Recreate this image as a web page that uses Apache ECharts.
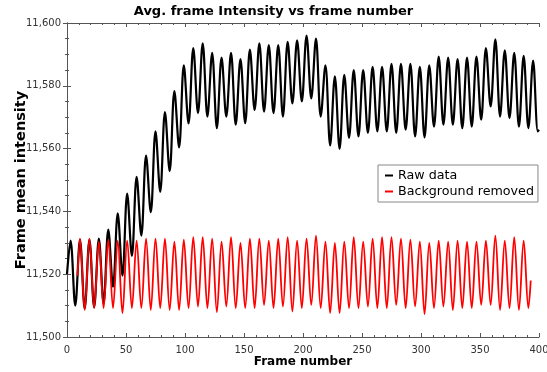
<!DOCTYPE html>
<html>
<head>
<meta charset="utf-8">
<script src="https://cdn.jsdelivr.net/npm/echarts@6/dist/echarts.min.js"></script>
<style>
  html, body { margin: 0; padding: 0; background: #fff; }
  #chart { width: 547px; height: 372px; }
</style>
</head>
<body>
<div id="chart"></div>
<script>
// 原始数据 (peaks / troughs)
const rawFrames = [0, 3, 7, 11, 15, 19, 23, 27, 31, 35, 39, 43, 47, 51, 55, 59, 63, 67, 71, 75, 79, 83, 87, 91, 95, 99,
  103, 107, 111, 115, 119, 123, 127, 131, 135, 139, 143, 147, 151, 155, 159, 163, 167, 171, 175, 179, 183, 187, 191, 195, 199,
  203, 207, 211, 215, 219, 223, 227, 231, 235, 239, 243, 247, 251, 255, 259, 263, 267, 271, 275, 279, 283, 287, 291, 295, 299,
  303, 307, 311, 315, 319, 323, 327, 331, 335, 339, 343, 347, 351, 355, 359, 363, 367, 371, 375, 379, 383, 387, 391, 395, 399, 400]
const rawValues = [11520, 11530.7, 11510, 11531, 11509, 11531, 11509.5, 11531.3, 11510.7, 11534.2, 11516, 11539.4, 11519.5, 11545.7, 11525.8, 11551, 11532.3, 11557.8, 11539.7, 11565.5, 11546.2, 11571.6, 11552.8, 11578.3, 11560.4, 11586.5,
  11568, 11592, 11571.3, 11593.5, 11570.2, 11590.5, 11566.5, 11589, 11570.2, 11590.5, 11567.6, 11588.5, 11568.1, 11591.5, 11572.3, 11593.5, 11571.8, 11593, 11571.3, 11593, 11570.2, 11594, 11574.4, 11594.5, 11575,
  11596, 11576, 11595, 11570.2, 11586.5, 11561, 11583, 11559.9, 11583.5, 11563.4, 11585, 11563.9, 11585, 11565, 11586, 11565.5, 11586, 11565.5, 11587, 11565, 11587, 11566, 11587, 11563.9, 11586,
  11563.6, 11586.5, 11567, 11589.3, 11567.6, 11589, 11567.6, 11588.5, 11566.5, 11589, 11567, 11589.3, 11569.2, 11592, 11573.4, 11594.8, 11570.2, 11591.3, 11569.7, 11590.5, 11567, 11589.5, 11566.5, 11588, 11565.5, 11566]

// 去背景后的数据
const bgFrames = [9, 11, 15, 19, 23, 27, 31, 35, 39, 43, 47, 51, 55, 59, 63, 67, 71, 75, 79, 83, 87, 91, 95, 99,
  103, 107, 111, 115, 119, 123, 127, 131, 135, 139, 143, 147, 151, 155, 159, 163, 167, 171, 175, 179, 183, 187, 191, 195, 199,
  203, 207, 211, 215, 219, 223, 227, 231, 235, 239, 243, 247, 251, 255, 259, 263, 267, 271, 275, 279, 283, 287, 291, 295, 299,
  303, 307, 311, 315, 319, 323, 327, 331, 335, 339, 343, 347, 351, 355, 359, 363, 367, 371, 375, 379, 383, 387, 391, 393]
const bgValues = [11519.5, 11531.3, 11508.6, 11531.3, 11509.2, 11530.4, 11509.2, 11531, 11509.2, 11530.7, 11507.6, 11530.7, 11509.2, 11530.7, 11509.2, 11531.3, 11508.6, 11531.3, 11509.2, 11531.3, 11508.6, 11530.4, 11508.6, 11531,
  11509.2, 11531.8, 11509.7, 11531.8, 11509.2, 11531.3, 11507.9, 11530.4, 11509.7, 11531.8, 11509.2, 11530, 11509.2, 11531.3, 11509.2, 11531.3, 11510.2, 11530.7, 11509.2, 11531.3, 11509.7, 11531.8, 11508.1, 11530.7, 11509.2,
  11531.3, 11510.2, 11532.3, 11509.2, 11530.4, 11507.6, 11530, 11507.6, 11530.4, 11509.2, 11531.8, 11509.2, 11530.4, 11509.7, 11531.3, 11509.2, 11531.8, 11509.2, 11531.8, 11510.2, 11531.3, 11509.2, 11531, 11509.7, 11530.4,
  11507.3, 11530, 11509.2, 11530.7, 11509.7, 11530.4, 11508.6, 11530.7, 11509.2, 11530.4, 11509.2, 11530.4, 11510.2, 11530.7, 11510.2, 11532.3, 11508.6, 11530.7, 11509.2, 11531.8, 11508.6, 11530.7, 11509.2, 11518]

const seriesNames = ['Raw data', 'Background removed']
const xTicks = { min: 0, max: 400, step: 50 }
const yTicks = { min: 11500, max: 11600, step: 20 }

const font = 'DejaVu Sans'
const frameColor = '#555'

const pairs = (xs, ys) => xs.map((x, i) => [x, ys[i]])

const boxAxis = (extra) => Object.assign({
  type: 'value',
  axisLine: { show: true, lineStyle: { color: frameColor, width: 1 } },
  axisTick: { show: true, inside: true, length: 4, lineStyle: { color: frameColor } },
  minorTick: { show: true, length: 2, lineStyle: { color: frameColor } },
  splitLine: { show: false },
  axisLabel: { show: false }
}, extra)

const myChart = echarts.init(document.getElementById('chart'), null, { renderer: 'canvas' })

const option = {
  animation: false,
  backgroundColor: '#fff',
  title: {
    text: 'Avg. frame Intensity vs frame number',
    left: 'center',
    top: 5,
    padding: 0,
    textStyle: { fontFamily: font, fontSize: 13, fontWeight: 'bold', color: '#000' }
  },
  grid: { left: 67, right: 8, top: 23, bottom: 35, containLabel: false, outerBoundsMode: 'none' },
  legend: {
    data: seriesNames,
    orient: 'vertical',
    left: 378,
    top: 165,
    icon: 'rect',
    itemWidth: 8,
    itemHeight: 2,
    itemGap: 3,
    padding: [4, 4, 4, 7],
    borderColor: '#888',
    borderWidth: 1,
    backgroundColor: '#fff',
    textStyle: { fontFamily: font, fontSize: 12.7, color: '#000' }
  },
  xAxis: [
    boxAxis({
      min: xTicks.min, max: xTicks.max, interval: xTicks.step,
      position: 'bottom',
      minorTick: { show: true, splitNumber: 5, length: 2, lineStyle: { color: frameColor } },
      axisLabel: { show: true, fontFamily: font, fontSize: 10, color: '#333', margin: 8 },
      name: 'Frame number',
      nameLocation: 'middle',
      nameGap: 19,
      nameMoveOverlap: false,
      nameTextStyle: { fontFamily: font, fontSize: 12, fontWeight: 'bold', color: '#000' }
    }),
    boxAxis({
      min: xTicks.min, max: xTicks.max, interval: xTicks.step,
      position: 'top',
      minorTick: { show: true, splitNumber: 5, length: 2, lineStyle: { color: frameColor } }
    })
  ],
  yAxis: [
    boxAxis({
      min: yTicks.min, max: yTicks.max, interval: yTicks.step,
      position: 'left',
      minorTick: { show: true, splitNumber: 4, length: 2, lineStyle: { color: frameColor } },
      axisLabel: {
        show: true, fontFamily: font, fontSize: 10, color: '#333', margin: 6,
        formatter: (v) => v.toLocaleString('en-US')
      },
      name: 'Frame mean intensity',
      nameLocation: 'middle',
      nameGap: 38,
      nameMoveOverlap: false,
      nameTextStyle: { fontFamily: font, fontSize: 14.5, fontWeight: 'bold', color: '#000' }
    }),
    boxAxis({
      min: yTicks.min, max: yTicks.max, interval: yTicks.step,
      position: 'right',
      minorTick: { show: true, splitNumber: 4, length: 2, lineStyle: { color: frameColor } }
    })
  ],
  series: [
    {
      name: seriesNames[0],
      type: 'line',
      smooth: 0.36,
      showSymbol: false,
      color: '#000',
      lineStyle: { width: 2.2, color: '#000' },
      data: pairs(rawFrames, rawValues)
    },
    {
      name: seriesNames[1],
      type: 'line',
      smooth: 0.36,
      showSymbol: false,
      color: '#f00',
      lineStyle: { width: 1.8, color: '#f00' },
      data: pairs(bgFrames, bgValues)
    }
  ]
}

myChart.setOption(option)
window.addEventListener('resize', function () {
  myChart.resize()
})
</script>
</body>
</html>
